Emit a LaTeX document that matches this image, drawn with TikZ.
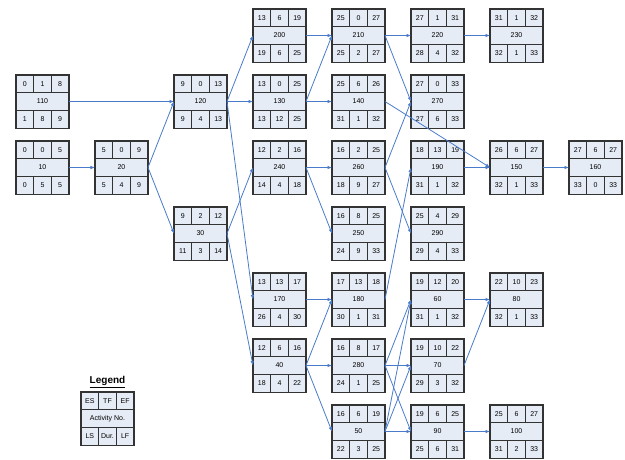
\documentclass[tikz,border=0pt]{standalone}
\usepackage{fontspec}
\setmainfont{Liberation Sans}
\usetikzlibrary{arrows.meta,positioning}
\definecolor{boxfill}{HTML}{E6ECF6}
\definecolor{linkblue}{HTML}{4A7BCB}

% one activity box: name, centre, no., ES, TF, EF, LS, Dur, LF
\newcommand{\act}[9]{%
  \node[mid] (#1) at (#2) {#3};
  \node[cell, anchor=south west] (#1-es) at (#1.north west) {#4};
  \node[cell, anchor=south] (#1-tf) at (#1.north) {#5};
  \node[cell, anchor=south east] (#1-ef) at (#1.north east) {#6};
  \node[cell, anchor=north west] (#1-ls) at (#1.south west) {#7};
  \node[cell, anchor=north] (#1-du) at (#1.south) {#8};
  \node[cell, anchor=north east] (#1-lf) at (#1.south east) {#9};
}

\begin{document}
\begin{tikzpicture}[x=79pt, y=-66pt, >={Latex[length=4.5pt,width=3.6pt]},
  mid/.style={draw=black!80, fill=boxfill, line width=1.1pt, minimum width=53pt, minimum height=17.7pt,
    inner sep=0pt, outer sep=0pt, font=\fontsize{7}{8}\selectfont},
  cell/.style={mid, minimum width=17.67pt},
  link/.style={->, draw=linkblue, line width=0.8pt}]
\useasboundingbox (-42.5pt,35.5pt) rectangle ++(625pt,-459pt);

\act{a200}{3,0}{200}{13}{6}{19}{19}{6}{25}
\act{a210}{4,0}{210}{25}{0}{27}{25}{2}{27}
\act{a220}{5,0}{220}{27}{1}{31}{28}{4}{32}
\act{a230}{6,0}{230}{31}{1}{32}{32}{1}{33}

\act{a110}{0,1}{110}{0}{1}{8}{1}{8}{9}
\act{a120}{2,1}{120}{9}{0}{13}{9}{4}{13}
\act{a130}{3,1}{130}{13}{0}{25}{13}{12}{25}
\act{a140}{4,1}{140}{25}{6}{26}{31}{1}{32}
\act{a270}{5,1}{270}{27}{0}{33}{27}{6}{33}

\act{a10}{0,2}{10}{0}{0}{5}{0}{5}{5}
\act{a20}{1,2}{20}{5}{0}{9}{5}{4}{9}
\act{a240}{3,2}{240}{12}{2}{16}{14}{4}{18}
\act{a260}{4,2}{260}{16}{2}{25}{18}{9}{27}
\act{a190}{5,2}{190}{18}{13}{19}{31}{1}{32}
\act{a150}{6,2}{150}{26}{6}{27}{32}{1}{33}
\act{a160}{7,2}{160}{27}{6}{27}{33}{0}{33}

\act{a30}{2,3}{30}{9}{2}{12}{11}{3}{14}
\act{a250}{4,3}{250}{16}{8}{25}{24}{9}{33}
\act{a290}{5,3}{290}{25}{4}{29}{29}{4}{33}

\act{a170}{3,4}{170}{13}{13}{17}{26}{4}{30}
\act{a180}{4,4}{180}{17}{13}{18}{30}{1}{31}
\act{a60}{5,4}{60}{19}{12}{20}{31}{1}{32}
\act{a80}{6,4}{80}{22}{10}{23}{32}{1}{33}

\act{a40}{3,5}{40}{12}{6}{16}{18}{4}{22}
\act{a280}{4,5}{280}{16}{8}{17}{24}{1}{25}
\act{a70}{5,5}{70}{19}{10}{22}{29}{3}{32}

\act{a50}{4,6}{50}{16}{6}{19}{22}{3}{25}
\act{a90}{5,6}{90}{19}{6}{25}{25}{6}{31}
\act{a100}{6,6}{100}{25}{6}{27}{31}{2}{33}

% legend
\act{legend}{65pt,-383pt}{Activity No.}{ES}{TF}{EF}{LS}{Dur.}{LF}
\node[font=\bfseries\fontsize{10}{12}\selectfont, above=1pt of legend-tf] (legendtitle) {\underline{Legend}};

% precedence links
\draw[link] (a110.east) -- (a120.west);
\draw[link] (a10.east) -- (a20.west);
\draw[link] (a20.east) -- (a120.west);
\draw[link] (a20.east) -- (a30.west);
\draw[link] (a120.east) -- (a200.west);
\draw[link] (a120.east) -- (a130.west);
\draw[link] (a120.east) -- (a170.west);
\draw[link] (a30.east) -- (a240.west);
\draw[link] (a30.east) -- (a40.west);
\draw[link] (a200.east) -- (a210.west);
\draw[link] (a130.east) -- (a210.west);
\draw[link] (a130.east) -- (a140.west);
\draw[link] (a240.east) -- (a260.west);
\draw[link] (a240.east) -- (a250.west);
\draw[link] (a170.east) -- (a180.west);
\draw[link] (a40.east) -- (a180.west);
\draw[link] (a40.east) -- (a280.west);
\draw[link] (a40.east) -- (a50.west);
\draw[link] (a210.east) -- (a220.west);
\draw[link] (a210.east) -- (a270.west);
\draw[link] (a140.east) -- (a150.west);
\draw[link] (a260.east) -- (a270.west);
\draw[link] (a260.east) -- (a290.west);
\draw[link] (a180.east) -- (a190.west);
\draw[link] (a280.east) -- (a60.west);
\draw[link] (a280.east) -- (a70.west);
\draw[link] (a280.east) -- (a90.west);
\draw[link] (a50.east) -- (a60.west);
\draw[link] (a50.east) -- (a70.west);
\draw[link] (a50.east) -- (a90.west);
\draw[link] (a220.east) -- (a230.west);
\draw[link] (a190.east) -- (a150.west);
\draw[link] (a60.east) -- (a80.west);
\draw[link] (a70.east) -- (a80.west);
\draw[link] (a90.east) -- (a100.west);
\draw[link] (a150.east) -- (a160.west);
\end{tikzpicture}
\end{document}
